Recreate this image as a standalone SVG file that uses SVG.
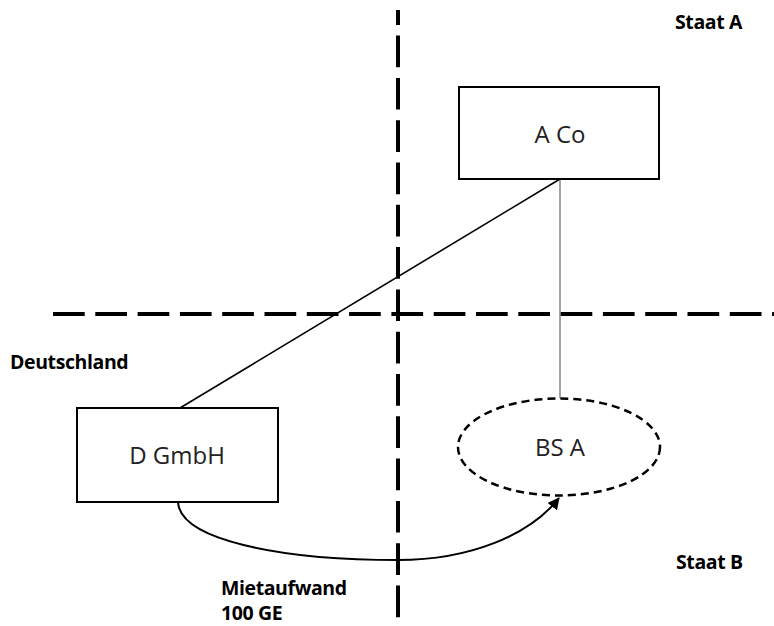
<svg xmlns="http://www.w3.org/2000/svg" width="774" height="626" viewBox="0 0 774 626">
  <style>
    .box { fill: #fff; stroke: #000; stroke-width: 2; }
    .lbl { font-family: "Open Sans", "Liberation Sans", sans-serif; font-size: 24px; fill: #222; text-anchor: middle; }
    .bold { font-family: "Open Sans", "Liberation Sans", sans-serif; font-size: 19.5px; font-weight: bold; fill: #000; letter-spacing: -0.4px; }
    .border { stroke: #000; stroke-width: 4; stroke-dasharray: 31.7 10.6; fill: none; }
  </style>
  <defs>
    <marker id="arrow" markerWidth="12" markerHeight="12" refX="11" refY="6" orient="auto" markerUnits="userSpaceOnUse" viewBox="0 0 12 12">
      <path d="M0,0 L12,6 L0,12 Z" fill="#000"/>
    </marker>
  </defs>
  <rect width="774" height="626" fill="#fff"/>

  <g id="borders">
    <line class="border" x1="398" y1="10" x2="398" y2="626" stroke-dashoffset="16.7"/>
    <line class="border" x1="53" y1="314" x2="774" y2="314"/>
  </g>

  <g id="region-labels">
    <text class="bold" x="675" y="29">Staat A</text>
    <text class="bold" x="10" y="369">Deutschland</text>
    <text class="bold" x="676" y="569">Staat B</text>
  </g>

  <g id="connectors">
    <line x1="180" y1="408" x2="560" y2="179" stroke="#000" stroke-width="1.6"/>
    <line x1="560" y1="179" x2="560" y2="398" stroke="#666" stroke-width="1.2"/>
    <path d="M178,502 C180,540 280,560 398,560 C470,560 530,535 559,498" fill="none" stroke="#000" stroke-width="2" marker-end="url(#arrow)"/>
    <text class="bold" x="221" y="595">Mietaufwand</text>
    <text class="bold" x="221" y="620">100 GE</text>
  </g>

  <g id="node-aco">
    <rect class="box" x="459" y="87" width="200" height="92"/>
    <text class="lbl" x="560" y="143">A Co</text>
  </g>

  <g id="node-dgmbh">
    <rect class="box" x="77" y="408" width="201" height="94"/>
    <text class="lbl" x="177" y="464">D GmbH</text>
  </g>

  <g id="node-bsa">
    <ellipse cx="559" cy="447" rx="101" ry="48.5" fill="none" stroke="#000" stroke-width="2.5" stroke-dasharray="8 5"/>
    <text class="lbl" x="560" y="456">BS A</text>
  </g>
</svg>
